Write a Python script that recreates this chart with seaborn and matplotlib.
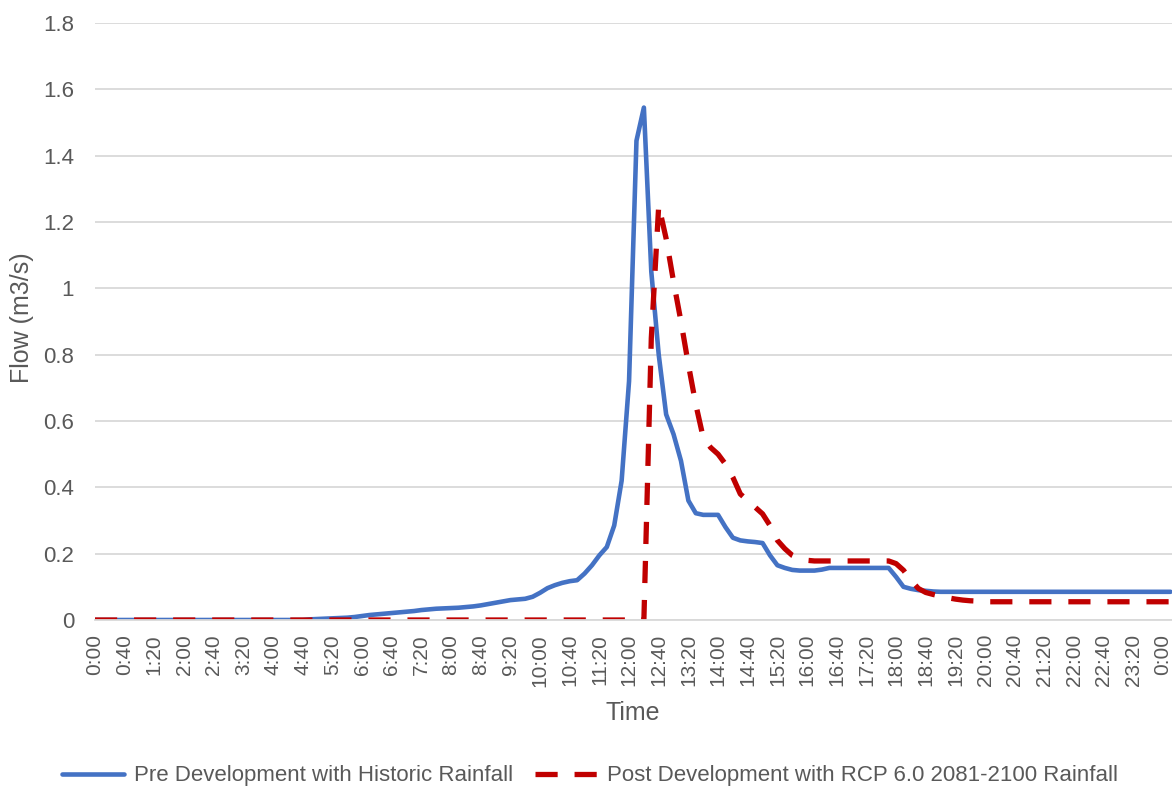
import matplotlib
matplotlib.use("Agg")
import matplotlib.pyplot as plt
import numpy as np
import pandas as pd
import seaborn as sns

# ---- data (10-minute steps from 0:00) ----
series_names = ["Pre Development with Historic Rainfall",
                "Post Development with RCP 6.0 2081-2100 Rainfall"]

pre_dev = [
    0, 0, 0, 0, 0, 0, 0, 0, 0, 0,
    0, 0, 0, 0, 0, 0, 0, 0, 0, 0,
    0, 0, 0, 0, 0, 0, 0, 0, 0, 0.002,
    0.003, 0.004, 0.005, 0.006, 0.007, 0.009, 0.012, 0.015, 0.017, 0.019,
    0.021, 0.023, 0.025, 0.027, 0.030, 0.032, 0.034, 0.035, 0.036, 0.037,
    0.039, 0.041, 0.044, 0.048, 0.052, 0.056, 0.060, 0.062, 0.064, 0.070,
    0.082, 0.096, 0.105, 0.112, 0.117, 0.120, 0.140, 0.165, 0.195, 0.220,
    0.285, 0.420, 0.720, 1.445, 1.545, 1.050, 0.800, 0.620, 0.560, 0.480,
    0.360, 0.322, 0.317, 0.317, 0.317, 0.280, 0.248, 0.240, 0.237, 0.235,
    0.232, 0.195, 0.165, 0.157, 0.151, 0.149, 0.149, 0.149, 0.152, 0.157,
    0.157, 0.157, 0.157, 0.157, 0.157, 0.157, 0.157, 0.157, 0.130, 0.100,
    0.094, 0.090, 0.088, 0.086, 0.085, 0.085, 0.085, 0.085, 0.085, 0.085,
    0.085, 0.085, 0.085, 0.085, 0.085, 0.085, 0.085, 0.085, 0.085, 0.085,
    0.085, 0.085, 0.085, 0.085, 0.085, 0.085, 0.085, 0.085, 0.085, 0.085,
    0.085, 0.085, 0.085, 0.085, 0.085, 0.085,
]

post_dev = [
    0, 0, 0, 0, 0, 0, 0, 0, 0, 0,
    0, 0, 0, 0, 0, 0, 0, 0, 0, 0,
    0, 0, 0, 0, 0, 0, 0, 0, 0, 0,
    0, 0, 0, 0, 0, 0, 0, 0, 0, 0,
    0, 0, 0, 0, 0, 0, 0, 0, 0, 0,
    0, 0, 0, 0, 0, 0, 0, 0, 0, 0,
    0, 0, 0, 0, 0, 0, 0, 0, 0, 0,
    0, 0, 0, 0, 0, 0.85, 1.25, 1.15, 1.02, 0.90,
    0.77, 0.65, 0.55, 0.52, 0.50, 0.47, 0.43, 0.38, 0.36, 0.34,
    0.32, 0.285, 0.24, 0.215, 0.195, 0.185, 0.180, 0.178, 0.178, 0.178,
    0.178, 0.178, 0.178, 0.178, 0.178, 0.178, 0.178, 0.178, 0.170, 0.150,
    0.120, 0.095, 0.083, 0.077, 0.072, 0.067, 0.063, 0.060, 0.058, 0.057,
    0.055, 0.055, 0.055, 0.055, 0.055, 0.055, 0.055, 0.055, 0.055, 0.055,
    0.055, 0.055, 0.055, 0.055, 0.055, 0.055, 0.055, 0.055, 0.055, 0.055,
    0.055, 0.055, 0.055, 0.055, 0.055, 0.055,
]

time_labels = [f"{(i * 10 // 60) % 24}:{(i * 10) % 60:02d}" for i in range(len(pre_dev))]
y_ticks = [0, 0.2, 0.4, 0.6, 0.8, 1.0, 1.2, 1.4, 1.6, 1.8]

df = pd.DataFrame({"pos": np.arange(len(pre_dev)), "time": time_labels,
                   "pre": pre_dev, "post": post_dev})

# ---- style ----
sns.set_theme(style="white")
plt.rcParams["font.family"] = ["Liberation Sans", "DejaVu Sans"]
txt = "#595959"
blue = "#4472C4"
red = "#C00000"
red_dash = [4.2, 3.2]

W, H = 1172, 787
fig = plt.figure(figsize=(W / 100, H / 100), dpi=100)
ax = fig.add_axes([95 / W, (H - 620) / H, (W - 95) / W, (620 - 23) / H])

sns.lineplot(data=df, x="pos", y="pre", ax=ax, color=blue, lw=3.3,
             label=series_names[0])
sns.lineplot(data=df, x="pos", y="post", ax=ax, color=red, lw=3.8,
             label=series_names[1])
ax.lines[0].set_solid_capstyle("round")
ax.lines[0].set_solid_joinstyle("round")
ax.lines[1].set_dashes(red_dash)

ax.set_xlim(0, 145.2)
ax.set_ylim(0, 1.8)
ax.set_yticks(y_ticks)
ax.set_yticklabels([f"{v:g}" for v in y_ticks], fontsize=16, color=txt)
tick_pos = list(range(0, len(pre_dev), 4))
ax.set_xticks(tick_pos)
ax.set_xticklabels([time_labels[i] for i in tick_pos], rotation=90,
                   fontsize=15, color=txt)
ax.tick_params(axis="y", length=0, pad=15)
ax.tick_params(axis="x", length=0, pad=10)

ax.yaxis.grid(True, color="#D9D9D9", lw=1.3)
ax.xaxis.grid(False)
ax.set_axisbelow(True)
for s in ["left", "right", "top"]:
    ax.spines[s].set_visible(False)
ax.spines["bottom"].set_color("#D9D9D9")
ax.spines["bottom"].set_linewidth(1.3)

ax.set_xlabel("")
ax.set_ylabel("")
fig.text(633 / W, 1 - 713 / H, "Time", ha="center", va="center",
         fontsize=18, color=txt)
fig.text(22 / W, 1 - 318 / H, "Flow (m3/s)", ha="center", va="center",
         rotation=90, fontsize=18, color=txt)

handles, labels = ax.get_legend_handles_labels()
ax.get_legend().remove()
leg = fig.legend(handles, labels, loc="center",
                 bbox_to_anchor=(590 / W, 1 - 776 / H), ncol=2, frameon=False,
                 fontsize=16, handlelength=2.8, handletextpad=0.45,
                 columnspacing=0.95)
for t in leg.get_texts():
    t.set_color(txt)
leg.get_lines()[1].set_dashes(red_dash)

fig.savefig("out.png", dpi=100)
